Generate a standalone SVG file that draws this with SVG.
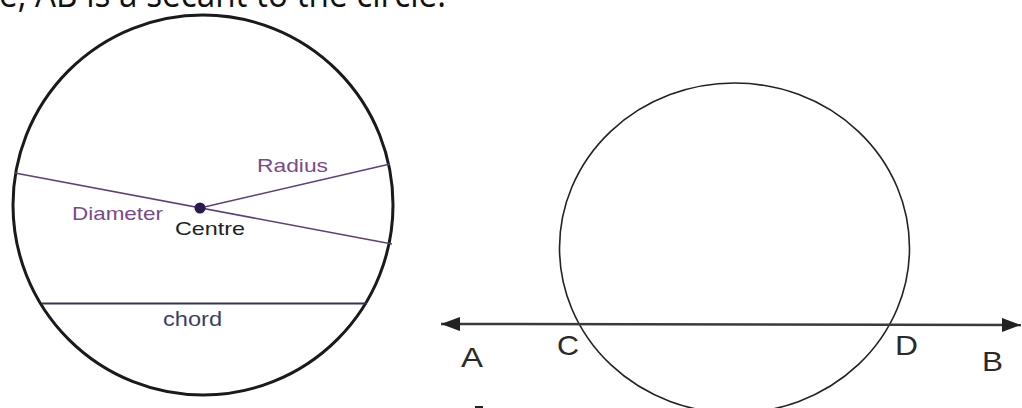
<svg xmlns="http://www.w3.org/2000/svg" width="1022" height="408" viewBox="0 0 1022 408">
<style>
.lbl{font-family:"Liberation Sans",Arial,sans-serif}
.pur{fill:#7a4a8c}
.big{font-family:"Liberation Sans",Arial,sans-serif;font-size:28px;fill:#2a2a2a}
</style>
<defs>
<marker id="ah" viewBox="0 -7 19 14" refX="19" refY="0" markerWidth="19" markerHeight="14" markerUnits="userSpaceOnUse" orient="auto-start-reverse">
<path d="M0,-7 L19,0 L0,7 z" fill="#222"/>
</marker>
</defs>
<rect width="1022" height="408" fill="#fff"/>
<text x="-1" y="7" font-family="'Open Sans','Noto Sans',sans-serif" font-size="37" fill="#111" textLength="447" lengthAdjust="spacingAndGlyphs">e, AB is a secant to the circle.</text>

<g id="circle-parts">
<circle cx="203" cy="205" r="190" fill="none" stroke="#1a1a1a" stroke-width="3"/>
<g id="connectors-left">
<line x1="15" y1="173" x2="392" y2="244" stroke="#5b3f7f" stroke-width="1.6"/>
<line x1="200" y1="208" x2="390" y2="164" stroke="#5b3f7f" stroke-width="1.6"/>
<line x1="42" y1="303.5" x2="367" y2="303.5" stroke="#2f3658" stroke-width="1.8"/>
</g>
<circle id="centre" cx="200" cy="208" r="5.5" fill="#2a1a4a"/>
<text id="radius" class="lbl pur" x="257" y="172" font-size="19" textLength="71" lengthAdjust="spacingAndGlyphs">Radius</text>
<text id="diameter" class="lbl pur" x="72" y="220" font-size="19" textLength="91" lengthAdjust="spacingAndGlyphs">Diameter</text>
<text id="centre-label" class="lbl" x="175" y="235" font-size="19" fill="#222" textLength="70" lengthAdjust="spacingAndGlyphs">Centre</text>
<text id="chord" class="lbl" x="163" y="325.5" font-size="20" fill="#3a3f6a" textLength="59" lengthAdjust="spacingAndGlyphs">chord</text>
</g>

<g id="secant-diagram">
<ellipse cx="734.5" cy="248" rx="175" ry="165" fill="none" stroke="#222" stroke-width="1.6"/>
<g id="connectors">
<line x1="441" y1="324" x2="1021" y2="325" stroke="#3a3a3a" stroke-width="2.5" marker-start="url(#ah)" marker-end="url(#ah)"/>
</g>
<text id="A" class="big" x="461" y="367" textLength="22" lengthAdjust="spacingAndGlyphs">A</text>
<text id="C" class="big" x="557" y="355" textLength="22" lengthAdjust="spacingAndGlyphs">C</text>
<text id="D" class="big" x="895" y="355" textLength="23" lengthAdjust="spacingAndGlyphs">D</text>
<text id="B" class="big" x="982" y="371" textLength="21" lengthAdjust="spacingAndGlyphs">B</text>
<rect x="475" y="406" width="8" height="2" fill="#222"/>
</g>
</svg>
